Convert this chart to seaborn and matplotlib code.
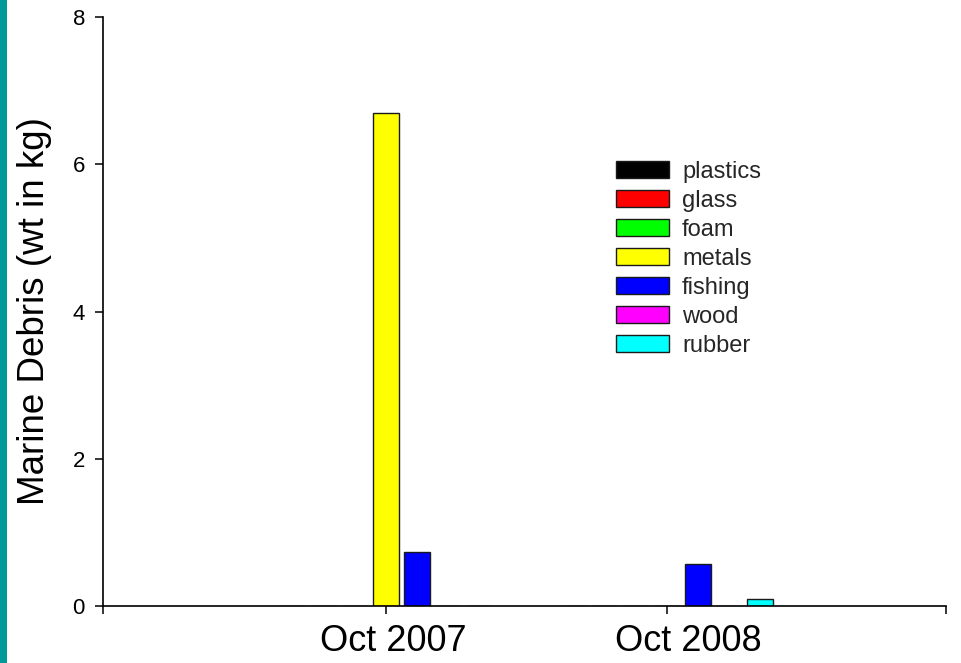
import matplotlib
matplotlib.use("Agg")
import matplotlib.pyplot as plt
import matplotlib.transforms as mtransforms
from matplotlib.patches import Rectangle
import seaborn as sns
import pandas as pd

# Survey dates and debris categories
dates = ["Oct 2007", "Oct 2008"]
materials = ["plastics", "glass", "foam", "metals", "fishing", "wood", "rubber"]
colors = ["#000000", "#FF0000", "#00FF00", "#FFFF00", "#0000FF", "#FF00FF", "#00FFFF"]

# Weight of each category (kg) per survey
weights_oct2007 = [0, 0, 0, 6.7, 0.74, 0, 0]
weights_oct2008 = [0, 0, 0, 0, 0.57, 0, 0.09]

y_ticks = [0, 2, 4, 6, 8]

df = pd.DataFrame({
    "date": [dates[0]] * len(materials) + [dates[1]] * len(materials),
    "material": materials * 2,
    "weight": weights_oct2007 + weights_oct2008,
})

sns.set_theme(style="ticks")
plt.rcParams["font.family"] = ["Liberation Sans", "DejaVu Sans"]

W, H = 961, 663
fig = plt.figure(figsize=(W / 100, H / 100), dpi=100)
fig.patch.set_facecolor("white")

# teal strip along the left edge
fig.patches.append(Rectangle((0, 0), 7 / W, 1, transform=fig.transFigure,
                             facecolor="#009999", edgecolor="none", zorder=0))

ax = fig.add_axes([103 / W, (H - 606) / H, 843 / W, 589 / H])
ax.set_facecolor("white")

sns.barplot(data=df, x="date", y="weight", hue="material",
            order=dates, hue_order=materials, palette=colors,
            saturation=1, width=0.77, gap=0.16, errorbar=None,
            edgecolor="#1a1a1a", linewidth=1.0, ax=ax)

x_lo, x_hi = -1.007, 1.993
ax.set_xlim(x_lo, x_hi)
ax.set_ylim(0, 8)
ax.set_yticks(y_ticks)
ax.set_yticklabels([str(t) for t in y_ticks])
ax.set_xticks([x_lo, 0, 1, x_hi])
ax.set_xticklabels(["", dates[0], dates[1], ""])

for side in ["top", "right"]:
    ax.spines[side].set_visible(False)
for side in ["left", "bottom"]:
    ax.spines[side].set_linewidth(1.2)
    ax.spines[side].set_color("black")

ax.tick_params(axis="y", length=6, width=1.1, pad=7, labelsize=16, colors="black")
ax.tick_params(axis="x", length=6, width=1.1, pad=7, labelsize=26, colors="black")

# nudge the date labels to the right a little
shifts = [0, 7, 21, 0]
for lab, dx in zip(ax.get_xticklabels(), shifts):
    lab.set_transform(lab.get_transform() +
                      mtransforms.ScaledTranslation(dx / 100, 0, fig.dpi_scale_trans))

ax.set_xlabel("")
ax.set_ylabel("Marine Debris (wt in kg)", fontsize=26.5, color="black")
ax.yaxis.set_label_coords(-0.061, 0.5)

handles, labels = ax.get_legend_handles_labels()
for h in handles:
    h.set_edgecolor("#1a1a1a")
    h.set_linewidth(1.0)
ax.legend(handles, labels, loc="upper left",
          bbox_to_anchor=(616 / W, 1 - 161 / H), bbox_transform=fig.transFigure,
          frameon=False, borderpad=0, borderaxespad=0, fontsize=17,
          handlelength=2.25, handleheight=0.72, handletextpad=0.55,
          labelspacing=0.295)

fig.savefig("out.png", dpi=100, facecolor="white")
